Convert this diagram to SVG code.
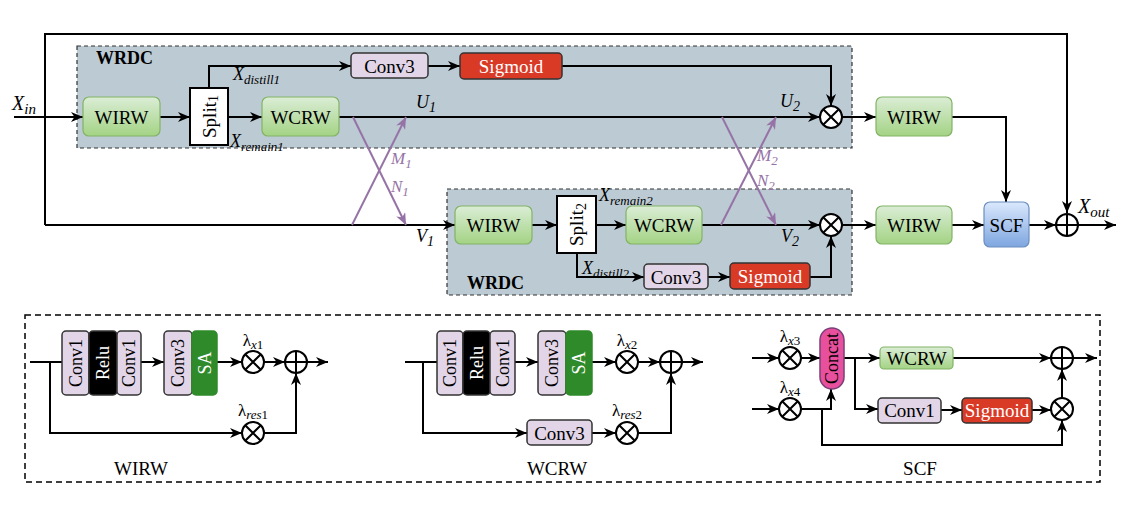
<svg xmlns="http://www.w3.org/2000/svg" width="1130" height="508" viewBox="0 0 1130 508" font-family="'Liberation Serif', 'DejaVu Serif', serif">
<defs>
<linearGradient id="gG" x1="0" y1="0" x2="0" y2="1"><stop offset="0" stop-color="#dbedd6"/><stop offset="1" stop-color="#a3d384"/></linearGradient>
<linearGradient id="gB" x1="0" y1="0" x2="0" y2="1"><stop offset="0" stop-color="#dae8fc"/><stop offset="1" stop-color="#7ea6e0"/></linearGradient>
<marker id="ar" viewBox="0 0 12 10" refX="12" refY="5" markerWidth="12" markerHeight="10" markerUnits="userSpaceOnUse" orient="auto"><path d="M0,0 L12,5 L0,10 L3.5,5 z" fill="#000"/></marker>
<marker id="ap" viewBox="0 0 12 10" refX="12" refY="5" markerWidth="12" markerHeight="10" markerUnits="userSpaceOnUse" orient="auto"><path d="M0,0 L12,5 L0,10 L3.5,5 z" fill="#9673a6"/></marker>
<g id="otimes"><circle cx="0" cy="0" r="11" fill="#fff" stroke="#000" stroke-width="2"/><path d="M-7.8,-7.8 L7.8,7.8 M7.8,-7.8 L-7.8,7.8" stroke="#000" stroke-width="2"/></g>
<g id="oplus"><circle cx="0" cy="0" r="11" fill="#fff" stroke="#000" stroke-width="2"/><path d="M-11,0 H11 M0,-11 V11" stroke="#000" stroke-width="2"/></g>
</defs>
<style>
text, tspan{font-family:'Liberation Serif','DejaVu Serif',serif}
text{fill:#000}
.lbl{font-size:19px;text-anchor:middle;dominant-baseline:central}
text.wl{fill:#fff}
.it{font-style:italic}
.pu{fill:#9673a6;font-style:italic}
.green{fill:url(#gG);stroke:#82b366;stroke-width:1.2}
.blue{fill:url(#gB);stroke:#6c8ebf;stroke-width:1.2}
.conv{fill:#e1d5e7;stroke:#333;stroke-width:1.5}
.sig{fill:#d93a26;stroke:#333;stroke-width:1.5}
.relu{fill:#000;stroke:#333;stroke-width:1.5}
.sa{fill:#2f8a2a;stroke:#2f8a2a;stroke-width:1.5}
.wrdc{fill:#bccad3;stroke:#333;stroke-width:1.2;stroke-dasharray:4 3}
.ln{fill:none;stroke:#000;stroke-width:2}
.lna{fill:none;stroke:#000;stroke-width:2;marker-end:url(#ar)}
.pl{fill:none;stroke:#9673a6;stroke-width:2;marker-end:url(#ap)}
</style>

<rect x="25" y="315" width="1075" height="167" fill="none" stroke="#000" stroke-width="1.5" stroke-dasharray="6 4"/>

<g id="wrdc1"><rect class="wrdc" x="77" y="46" width="775" height="102"/><text x="96" y="64" style="font-size:18px;font-weight:bold">WRDC</text></g>
<g id="wrdc2"><rect class="wrdc" x="447" y="189" width="405" height="106"/><text x="467" y="289" style="font-size:18px;font-weight:bold">WRDC</text></g>

<g id="connectors">
<path class="lna" d="M14,117 H83"/>
<path class="lna" d="M45,225 V34 H1067 V213"/>
<path class="lna" d="M160,117 H190"/>
<path class="lna" d="M228,117 H262"/>
<path class="lna" d="M209,88 V66 H351"/>
<path class="lna" d="M428,66 H460"/>
<path class="lna" d="M562,66 H831 V106"/>
<path class="lna" d="M339,117 H820"/>
<path class="lna" d="M842,117 H876"/>
<path class="lna" d="M952,117 H1006 V202"/>
<path class="lna" d="M45,225 H455"/>
<path class="lna" d="M532,225 H557"/>
<path class="lna" d="M596,225 H626"/>
<path class="lna" d="M577,253 V277 H644"/>
<path class="lna" d="M708,277 H730"/>
<path class="lna" d="M810,277 H831 V236"/>
<path class="lna" d="M702,225 H820"/>
<path class="lna" d="M842,225 H876"/>
<path class="lna" d="M952,225 H984"/>
<path class="lna" d="M1029,225 H1056"/>
<path class="lna" d="M1078,225 H1116"/>
<path class="pl" d="M353,117 L406,225"/>
<path class="pl" d="M352,225 L406,117"/>
<path class="pl" d="M722,117 L776,225"/>
<path class="pl" d="M721,225 L776,117"/>
<path class="ln" d="M30,362 H62"/>
<path class="lna" d="M50,362 V433 H242"/>
<path class="lna" d="M141,362 H164"/>
<path class="lna" d="M217,362 H242"/>
<path class="lna" d="M264,362 H285"/>
<path class="lna" d="M307,362 H328"/>
<path class="lna" d="M264,433 H296 V373"/>
<path class="ln" d="M405,362 H437"/>
<path class="lna" d="M423,362 V433 H527"/>
<path class="lna" d="M515,362 H538"/>
<path class="lna" d="M592,362 H616"/>
<path class="lna" d="M638,362 H660"/>
<path class="lna" d="M682,362 H703"/>
<path class="lna" d="M592,433 H616"/>
<path class="lna" d="M638,433 H671 V373"/>
<path class="lna" d="M752,358 H779"/>
<path class="lna" d="M801,358 H820"/>
<path class="lna" d="M752,409 H779"/>
<path class="lna" d="M801,409 H831 V389"/>
<path class="lna" d="M822,409 V445 H1062 V420"/>
<path class="lna" d="M844,358 H880"/>
<path class="lna" d="M953,358 H1051"/>
<path class="lna" d="M1073,358 H1097"/>
<path class="lna" d="M855,358 V409 H878"/>
<path class="lna" d="M941,410 H962"/>
<path class="lna" d="M1032,410 H1051"/>
<path class="lna" d="M1062,398 V369"/>
</g>

<g id="wirw1"><rect class="green" x="83" y="97" width="77" height="39" rx="6"/><text class="lbl" x="121.5" y="117">WIRW</text></g>
<g id="split1"><rect x="190" y="88" width="38" height="57" fill="#fff" stroke="#000" stroke-width="2"/><text class="lbl" transform="rotate(-90 209 116.5)" x="209" y="116.5">Split<tspan dy="4" style="font-size:14px">1</tspan></text></g>
<g id="wcrw1"><rect class="green" x="262" y="97" width="77" height="39" rx="6"/><text class="lbl" x="300.5" y="117">WCRW</text></g>
<g id="conv3a"><rect class="conv" x="351" y="53" width="77" height="25" rx="4"/><text class="lbl" x="389.5" y="66">Conv3</text></g>
<g id="sig1"><rect class="sig" x="460" y="53" width="102" height="26" rx="4"/><text class="lbl wl" x="511" y="66">Sigmoid</text></g>
<g id="mul1"><use href="#otimes" x="831" y="117"/></g>
<g id="wirw2"><rect class="green" x="876" y="97" width="76" height="39" rx="6"/><text class="lbl" x="914" y="117">WIRW</text></g>

<g id="wirw3"><rect class="green" x="455" y="206" width="77" height="38" rx="6"/><text class="lbl" x="493.5" y="225">WIRW</text></g>
<g id="split2"><rect x="557" y="196" width="39" height="57" fill="#fff" stroke="#000" stroke-width="2"/><text class="lbl" transform="rotate(-90 576.5 224.5)" x="576.5" y="224.5">Split<tspan dy="4" style="font-size:14px">2</tspan></text></g>
<g id="wcrw2"><rect class="green" x="626" y="206" width="76" height="38" rx="6"/><text class="lbl" x="664" y="225">WCRW</text></g>
<g id="conv3b"><rect class="conv" x="644" y="264" width="64" height="25" rx="4"/><text class="lbl" x="676" y="277">Conv3</text></g>
<g id="sig2"><rect class="sig" x="730" y="263" width="80" height="26" rx="4"/><text class="lbl wl" x="770" y="276.5">Sigmoid</text></g>
<g id="mul2"><use href="#otimes" x="831" y="225"/></g>
<g id="wirw4"><rect class="green" x="876" y="206" width="76" height="38" rx="6"/><text class="lbl" x="914" y="225">WIRW</text></g>
<g id="scf"><rect class="blue" x="984" y="202" width="45" height="45" rx="6"/><text class="lbl" x="1006.5" y="225">SCF</text></g>
<g id="add1"><use href="#oplus" x="1067" y="225"/></g>

<g id="labels">
<text x="12" y="110" class="it" style="font-size:20px">X<tspan dy="4" style="font-size:15px">in</tspan></text>
<text x="233" y="80" class="it" style="font-size:18px">X<tspan dy="4" style="font-size:13px">distill1</tspan></text>
<text x="230" y="147" class="it" style="font-size:18px">X<tspan dy="4" style="font-size:13px">remain1</tspan></text>
<text x="416" y="108" class="it" style="font-size:18px">U<tspan dy="4" style="font-size:14px">1</tspan></text>
<text x="780" y="107" class="it" style="font-size:18px">U<tspan dy="4" style="font-size:14px">2</tspan></text>
<text x="416" y="242" class="it" style="font-size:18px">V<tspan dy="4" style="font-size:14px">1</tspan></text>
<text x="781" y="242" class="it" style="font-size:18px">V<tspan dy="4" style="font-size:14px">2</tspan></text>
<text x="391" y="164" class="pu" style="font-size:17px">M<tspan dy="4" style="font-size:13px">1</tspan></text>
<text x="391" y="192" class="pu" style="font-size:17px">N<tspan dy="4" style="font-size:13px">1</tspan></text>
<text x="757" y="161" class="pu" style="font-size:17px">M<tspan dy="4" style="font-size:13px">2</tspan></text>
<text x="757" y="186" class="pu" style="font-size:17px">N<tspan dy="4" style="font-size:13px">2</tspan></text>
<text x="599" y="201" class="it" style="font-size:18px">X<tspan dy="4" style="font-size:13px">remain2</tspan></text>
<text x="582" y="274" class="it" style="font-size:18px">X<tspan dy="4" style="font-size:13px">distill2</tspan></text>
<text x="1078" y="213" class="it" style="font-size:20px">X<tspan dy="4" style="font-size:15px">out</tspan></text>
</g>

<g id="sub-wirw">
<rect class="conv" x="62" y="331" width="27" height="64" rx="4"/><text class="lbl" style="font-size:18px" transform="rotate(-90 75.5 363)" x="75.5" y="363">Conv1</text>
<rect class="relu" x="89" y="331" width="28" height="64" rx="4"/><text class="lbl wl" style="font-size:18px" transform="rotate(-90 103 363)" x="103" y="363">Relu</text>
<rect class="conv" x="117" y="331" width="24" height="64" rx="4"/><text class="lbl" style="font-size:18px" transform="rotate(-90 129 363)" x="129" y="363">Conv1</text>
<rect class="conv" x="164" y="331" width="28" height="64" rx="4"/><text class="lbl" style="font-size:18px" transform="rotate(-90 178 363)" x="178" y="363">Conv3</text>
<rect class="sa" x="192" y="331" width="25" height="64" rx="4"/><text class="lbl wl" style="font-size:18px" transform="rotate(-90 204.5 363)" x="204.5" y="363">SA</text>
<use href="#otimes" x="253" y="362"/><use href="#oplus" x="296" y="362"/><use href="#otimes" x="253" y="433"/>
<text x="253" y="346" style="font-size:17px;text-anchor:middle">λ<tspan dy="3" class="it" style="font-size:13px">x</tspan><tspan style="font-size:13px">1</tspan></text>
<text x="253" y="416" style="font-size:17px;text-anchor:middle">λ<tspan dy="3" class="it" style="font-size:13px">res</tspan><tspan style="font-size:13px">1</tspan></text>
<text x="141" y="475" style="font-size:19px;text-anchor:middle">WIRW</text>
</g>

<g id="sub-wcrw">
<rect class="conv" x="437" y="331" width="26" height="64" rx="4"/><text class="lbl" style="font-size:18px" transform="rotate(-90 450 363)" x="450" y="363">Conv1</text>
<rect class="relu" x="463" y="331" width="27" height="64" rx="4"/><text class="lbl wl" style="font-size:18px" transform="rotate(-90 476.5 363)" x="476.5" y="363">Relu</text>
<rect class="conv" x="490" y="331" width="25" height="64" rx="4"/><text class="lbl" style="font-size:18px" transform="rotate(-90 502.5 363)" x="502.5" y="363">Conv1</text>
<rect class="conv" x="538" y="331" width="28" height="64" rx="4"/><text class="lbl" style="font-size:18px" transform="rotate(-90 552 363)" x="552" y="363">Conv3</text>
<rect class="sa" x="566" y="331" width="26" height="64" rx="4"/><text class="lbl wl" style="font-size:18px" transform="rotate(-90 579 363)" x="579" y="363">SA</text>
<rect class="conv" x="527" y="420" width="65" height="25" rx="4"/><text class="lbl" style="font-size:19px" x="559.5" y="433">Conv3</text>
<use href="#otimes" x="627" y="362"/><use href="#oplus" x="671" y="362"/><use href="#otimes" x="627" y="433"/>
<text x="627" y="346" style="font-size:17px;text-anchor:middle">λ<tspan dy="3" class="it" style="font-size:13px">x</tspan><tspan style="font-size:13px">2</tspan></text>
<text x="627" y="416" style="font-size:17px;text-anchor:middle">λ<tspan dy="3" class="it" style="font-size:13px">res</tspan><tspan style="font-size:13px">2</tspan></text>
<text x="557" y="475" style="font-size:19px;text-anchor:middle">WCRW</text>
</g>

<g id="sub-scf">
<rect x="820" y="328" width="24" height="61" rx="12" fill="#e8509d" stroke="#7a3f7a" stroke-width="1.5"/><text class="lbl" style="font-size:18px" transform="rotate(-90 832 358.5)" x="832" y="358.5">Concat</text>
<rect class="green" x="880" y="347" width="73" height="22" rx="4"/><text class="lbl" style="font-size:19px" x="916.5" y="358">WCRW</text>
<rect class="conv" x="878" y="398" width="63" height="25" rx="4"/><text class="lbl" style="font-size:19px" x="909.5" y="410.5">Conv1</text>
<rect class="sig" x="962" y="398" width="70" height="25" rx="4"/><text class="lbl wl" style="font-size:19px" x="997" y="410.5">Sigmoid</text>
<use href="#otimes" x="790" y="358"/><use href="#otimes" x="790" y="409"/><use href="#oplus" x="1062" y="358"/><use href="#otimes" x="1062" y="409"/>
<text x="790" y="342" style="font-size:17px;text-anchor:middle">λ<tspan dy="3" class="it" style="font-size:13px">x</tspan><tspan style="font-size:13px">3</tspan></text>
<text x="790" y="393" style="font-size:17px;text-anchor:middle">λ<tspan dy="3" class="it" style="font-size:13px">x</tspan><tspan style="font-size:13px">4</tspan></text>
<text x="920" y="475" style="font-size:19px;text-anchor:middle">SCF</text>
</g>
</svg>
